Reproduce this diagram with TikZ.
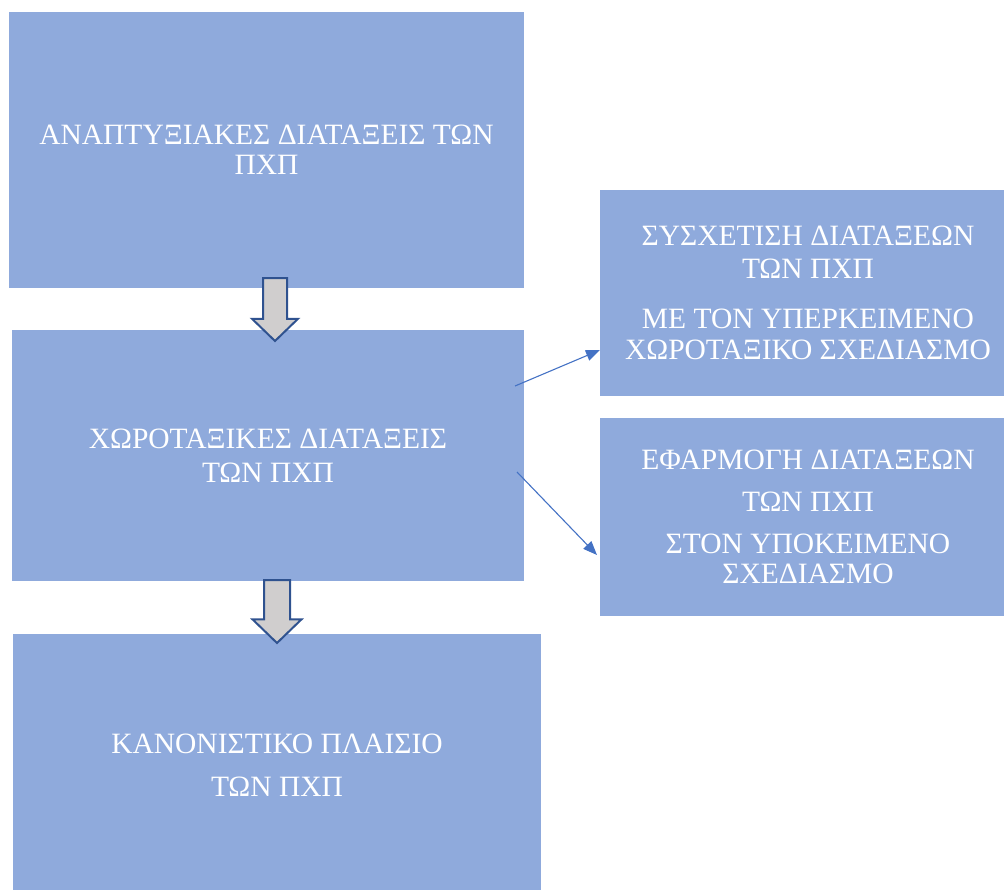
\documentclass[tikz,border=0pt]{standalone}
\usepackage{fontspec}
\setmainfont{Liberation Serif}
\usetikzlibrary{shapes.arrows,arrows.meta,calc}
\definecolor{boxfill}{HTML}{8FAADC}
\definecolor{arrowfill}{HTML}{D0CECE}
\definecolor{arrowline}{HTML}{2F528F}
\definecolor{linkblue}{HTML}{4472C4}
\begin{document}
\begin{tikzpicture}[x=1pt,y=-1pt,
  box/.style={rectangle, fill=boxfill, inner sep=0pt, outer sep=0pt, anchor=north west,
    text=white, align=center, font=\fontsize{29.5}{30}\selectfont},
  downarrow/.style={single arrow, draw=arrowline, fill=arrowfill, line width=2pt,
    shape border rotate=270, single arrow tip angle=92, single arrow head extend=11pt,
    inner sep=11pt, outer sep=0pt, minimum height=63pt, anchor=tail},
  link/.style={draw=linkblue, line width=1.1pt, -{Triangle[length=14pt,width=11pt]}}]
\useasboundingbox (0,0) rectangle (1004,889);
\node[box, minimum width=515pt, minimum height=276pt] (b1) at (9,12)
  {ΑΝΑΠΤΥΞΙΑΚΕΣ ΔΙΑΤΑΞΕΙΣ ΤΩΝ\\ΠΧΠ};
\node[box, minimum width=512pt, minimum height=251pt] (b2) at (12,330)
  {ΧΩΡΟΤΑΞΙΚΕΣ ΔΙΑΤΑΞΕΙΣ\\[4pt]ΤΩΝ ΠΧΠ};
\node[box, minimum width=528pt, minimum height=262pt] (b3) at (13,634)
  {ΚΑΝΟΝΙΣΤΙΚΟ ΠΛΑΙΣΙΟ\\[13pt]ΤΩΝ ΠΧΠ};
\node[box, minimum width=416pt, minimum height=206pt] (b4) at (600,190)
  {ΣΥΣΧΕΤΙΣΗ ΔΙΑΤΑΞΕΩΝ\\[3pt]ΤΩΝ ΠΧΠ\\[20pt]ΜΕ ΤΟΝ ΥΠΕΡΚΕΙΜΕΝΟ\\[1pt]ΧΩΡΟΤΑΞΙΚΟ ΣΧΕΔΙΑΣΜΟ};
\node[box, minimum width=416pt, minimum height=198pt] (b5) at (600,418)
  {ΕΦΑΡΜΟΓΗ ΔΙΑΤΑΞΕΩΝ\\[12pt]ΤΩΝ ΠΧΠ\\[12pt]ΣΤΟΝ ΥΠΟΚΕΙΜΕΝΟ\\ΣΧΕΔΙΑΣΜΟ};
\node[downarrow] (d1) at ($(b1.south west)+(266,-10)$) {};
\node[downarrow, inner sep=12pt, single arrow head extend=11.5pt] (d2) at ($(b2.south west)+(265,-1)$) {};
\coordinate (s1) at ($(b2.north east)+(-9,56)$);
\coordinate (e1) at ($(b4.north west)+(0,160)$);
\coordinate (s2) at ($(b2.north east)+(-7,142)$);
\coordinate (e2) at ($(b5.north west)+(-3,137)$);
\draw[link] (s1) -- (e1);
\draw[link] (s2) -- (e2);
\end{tikzpicture}
\end{document}
